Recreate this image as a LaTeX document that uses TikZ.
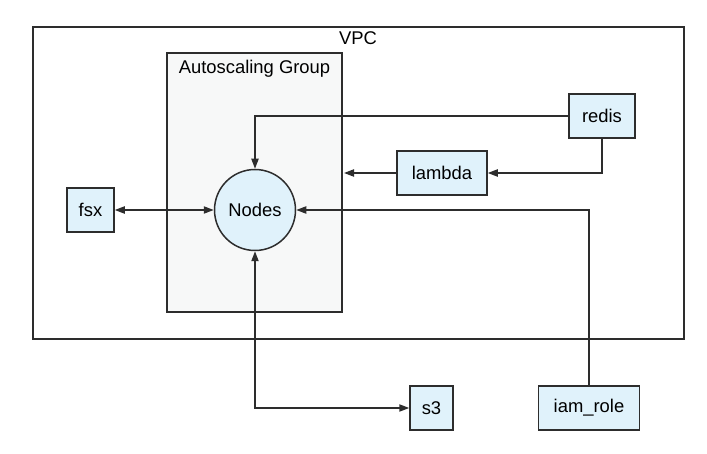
\documentclass[tikz,border=0pt]{standalone}
\usepackage{fontspec}
\setmainfont{Liberation Sans}
\usetikzlibrary{arrows.meta}
\definecolor{svcblue}{RGB}{224,242,251}
\definecolor{asggray}{RGB}{247,248,248}
\definecolor{linegray}{RGB}{45,45,45}

\begin{document}
\begin{tikzpicture}[x=0.5pt,y=-0.5pt,
    every node/.style={font=\fontsize{9.2}{11}\selectfont},
    svc/.style={draw=linegray,fill=svcblue,line width=0.75pt,minimum height=22pt,inner sep=0pt},
    frame/.style={draw=linegray,line width=0.75pt},
    link/.style={draw=linegray,line width=0.75pt,>={Triangle[length=5pt,width=3.6pt]}}]
  \useasboundingbox (0,0) rectangle (707,454);
  % VPC and autoscaling group
  \draw[frame] (33,27) rectangle (684,339);
  \node[anchor=base] (vpc) at (358,45) {VPC};
  \draw[frame,fill=asggray] (167,53) rectangle (342,312);
  \node[anchor=base] (asg) at (254.5,74) {Autoscaling Group};
  \coordinate (asgedge) at (344,173);
  % services
  \node[svc,circle,minimum size=40.5pt] (nodes) at (255,210) {Nodes};
  \node[svc,minimum width=23.5pt] (fsx)    at (90.5,210) {fsx};
  \node[svc,minimum width=33pt]   (redis)  at (602,116) {redis};
  \node[svc,minimum width=45pt]   (lambda) at (442,173) {lambda};
  \node[svc,minimum width=21.5pt] (s3)     at (431.5,408) {s3};
  \node[svc,minimum width=50.5pt] (iam)    at (589,408) {iam\_role};
  % connectors
  \draw[link,->]  (redis.west) -| (nodes.north);
  \draw[link,->]  (redis.south) |- (lambda.east);
  \draw[link,->]  (lambda.west) -- (asgedge);
  \draw[link,<->] (fsx) -- (nodes);
  \draw[link,->]  (iam.north) |- (nodes.east);
  \draw[link,<->] (nodes.south) |- (s3.west);
\end{tikzpicture}
\end{document}
